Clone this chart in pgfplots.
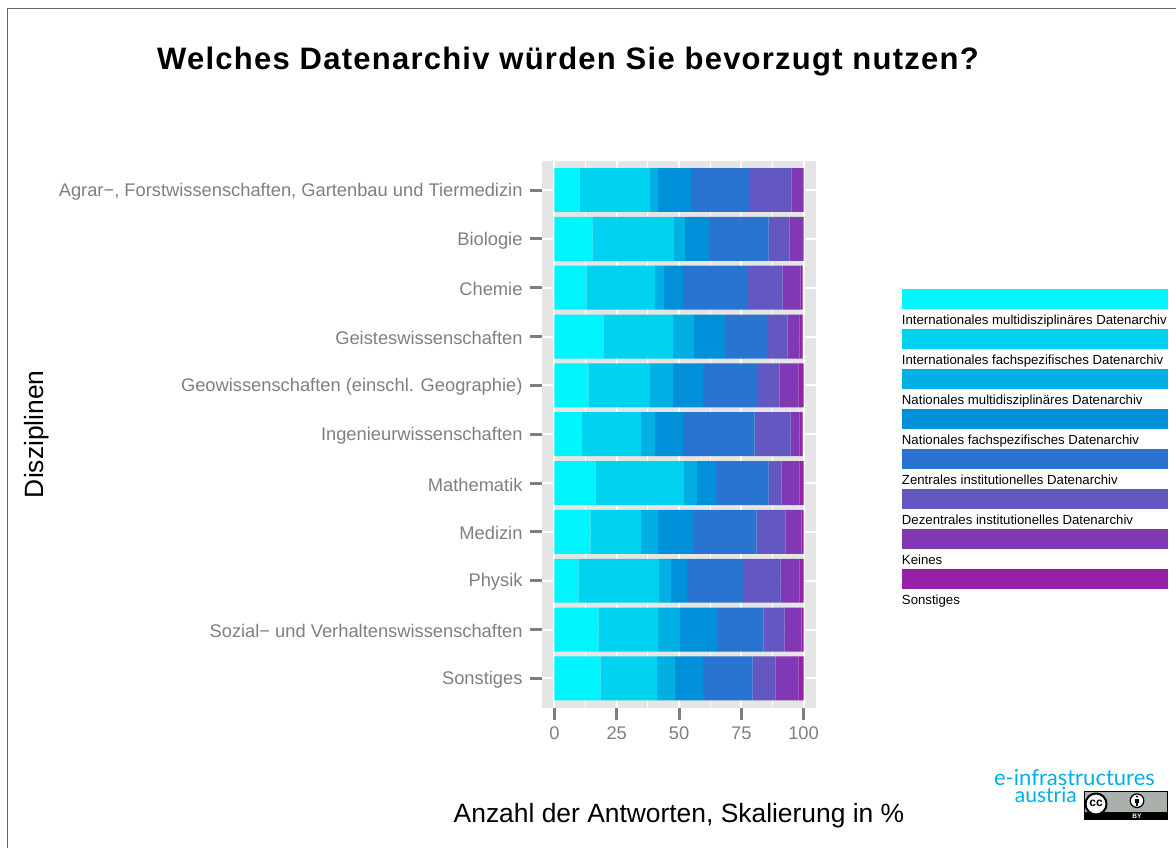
\documentclass[border=0pt]{standalone}
\usepackage{pgfplots}
\pgfplotsset{compat=1.18}
\usepackage{fontspec}
\setmainfont{Liberation Sans}
\newfontfamily\titlefont[LetterSpace=4]{Liberation Sans}
\newfontfamily\logofont{Lato}
\definecolor{c1}{HTML}{00F5FF}
\definecolor{c2}{HTML}{00D2F0}
\definecolor{c3}{HTML}{00AFE4}
\definecolor{c4}{HTML}{008FD9}
\definecolor{c5}{HTML}{2874D0}
\definecolor{c6}{HTML}{6358C2}
\definecolor{c7}{HTML}{8038B4}
\definecolor{c8}{HTML}{9820A8}
\definecolor{panel}{HTML}{E5E5E5}
\definecolor{tickgray}{HTML}{7F7F7F}
\definecolor{ccgray}{HTML}{A9B1AA}
\begin{document}
\begin{tikzpicture}[x=1bp,y=1bp]
\path[use as bounding box] (0,0) rectangle (1176,-848);
\draw[black!60,line width=1.4bp] (7.5,-848) -- (7.5,-8.5) -- (1176,-8.5);
\node[font=\titlefont\bfseries\fontsize{31bp}{35bp}\selectfont,text=black,anchor=center] at (568,-61.5) {Welches Datenarchiv würden Sie bevorzugt nutzen?};
\begin{axis}[
  at={(542bp,-707.7bp)},anchor=south west,
  scale only axis,width=274bp,height=547bp,
  xbar stacked,bar width=0.9,
  xmin=-5,xmax=105,ymin=0.4,ymax=11.6,
  xtick={0,25,50,75,100},minor xtick={12.5,37.5,62.5,87.5},
  ytick={1,...,11},
  yticklabels={Sonstiges,Sozial− und Verhaltenswissenschaften,Physik,Medizin,Mathematik,Ingenieurwissenschaften,Geowissenschaften (einschl. Geographie),Geisteswissenschaften,Chemie,Biologie,{Agrar−, Forstwissenschaften, Gartenbau und Tiermedizin}},
  xtick pos=bottom,ytick pos=left,
  tick align=outside,
  major tick length=12bp,minor tick length=0pt,
  tick style={draw=tickgray,line width=3bp},
  axis line style={draw=none},
  axis background/.style={fill=panel},
  xmajorgrids,xminorgrids,ymajorgrids,
  major grid style={draw=white,line width=2bp},
  minor grid style={draw=white,line width=1bp},
  tick label style={font=\fontsize{18.3bp}{21bp}\selectfont,text=tickgray},
  /pgf/number format/assume math mode=true,
  xticklabel style={yshift=-3.5bp},
  yticklabel style={xshift=-4bp,yshift=-1.5bp},
  xlabel={Anzahl der Antworten, Skalierung in \%},
  ylabel={Disziplinen},
  label style={font=\fontsize{26.4bp}{30bp}\selectfont},
  xlabel style={at={(axis description cs:0.5,0)},anchor=center,yshift=-107.5bp},
  ylabel style={at={(axis description cs:0,0.5)},anchor=center,yshift=505bp},
  legend image code/.code={\fill[#1,overlay] (0bp,15bp) rectangle (266bp,35bp);},
  legend style={at={(axis description cs:1.3137,0.7176)},anchor=north west,draw=none,fill=none,inner sep=0pt,outer sep=0pt,
    row sep=0pt,column sep=0pt,
    nodes={inner sep=0pt,outer sep=0pt,font=\fontsize{13.2bp}{15bp}\selectfont,text height=9bp,text depth=31bp,anchor=base west}},
  legend cell align=left,
]
\addplot[fill=c1,draw=none] coordinates {(10,11)(15.2,10)(12.8,9)(19.6,8)(13.6,7)(10.8,6)(16.4,5)(14.4,4)(9.6,3)(17.6,2)(18.4,1)};
\addplot[fill=c2,draw=none] coordinates {(28.4,11)(32.8,10)(27.6,9)(28,8)(24.8,7)(24,6)(35.6,5)(20.4,4)(32.4,3)(24,2)(22.8,1)};
\addplot[fill=c3,draw=none] coordinates {(3.2,11)(4.4,10)(3.6,9)(8.4,8)(9.2,7)(5.6,6)(5.2,5)(6.8,4)(4.8,3)(8.8,2)(7.2,1)};
\addplot[fill=c4,draw=none] coordinates {(13.2,11)(10,10)(7.6,9)(12.8,8)(12,7)(11.2,6)(7.6,5)(14,4)(6.4,3)(14.8,2)(11.2,1)};
\addplot[fill=c5,draw=none] coordinates {(23.6,11)(23.6,10)(25.7,9)(16.5,8)(21.7,7)(28.8,6)(21.2,5)(25.6,4)(22.4,3)(18.7,2)(20,1)};
\addplot[fill=c6,draw=none] coordinates {(16.8,11)(8.4,10)(14.3,9)(8.3,8)(9.1,7)(14.4,6)(5.2,5)(11.6,4)(15.2,3)(8.5,2)(9.2,1)};
\addplot[fill=c7,draw=none] coordinates {(4.8,11)(5.6,10)(7.2,9)(4.8,8)(7.6,7)(3.6,6)(7.2,5)(6.4,4)(7.6,3)(6.8,2)(9.2,1)};
\addplot[fill=c8,draw=none] coordinates {(0,11)(0,10)(0.8,9)(1.2,8)(2,7)(1.2,6)(1.6,5)(0.8,4)(1.6,3)(0.8,2)(2,1)};
\legend{Internationales multidisziplinäres Datenarchiv,Internationales fachspezifisches Datenarchiv,Nationales multidisziplinäres Datenarchiv,Nationales fachspezifisches Datenarchiv,Zentrales institutionelles Datenarchiv,Dezentrales institutionelles Datenarchiv,Keines,Sonstiges}
\end{axis}
% logo
\node[font=\logofont\fontsize{22bp}{24bp}\selectfont,text=c3,anchor=base east,inner sep=0pt] at (1155,-785) {e-infrastructures};
\node[font=\logofont\fontsize{21bp}{24bp}\selectfont,text=c3,anchor=base east,inner sep=0pt] at (1077,-802) {austria};
% CC BY badge
\fill[black] (1084,-790.5) rectangle (1168,-820);
\fill[ccgray] (1085,-791.5) rectangle (1167,-812);
\fill[white,draw=black,line width=2bp] (1096,-804) circle (10.5);
\node[font=\bfseries\fontsize{12bp}{13bp}\selectfont,inner sep=0pt] at (1096,-803) {cc};
\fill[white,draw=black,line width=1.2bp] (1137,-800.7) circle (6.8);
\fill[black] (1137,-796.5) circle (1.2);
\fill[black] (1135,-798.5) rectangle (1139,-802.5);
\fill[black] (1135.8,-802.5) rectangle (1138.2,-806);
\node[font=\bfseries\fontsize{6.5bp}{7bp}\selectfont,text=white,inner sep=0pt] at (1137,-816) {BY};
\end{tikzpicture}
\end{document}
